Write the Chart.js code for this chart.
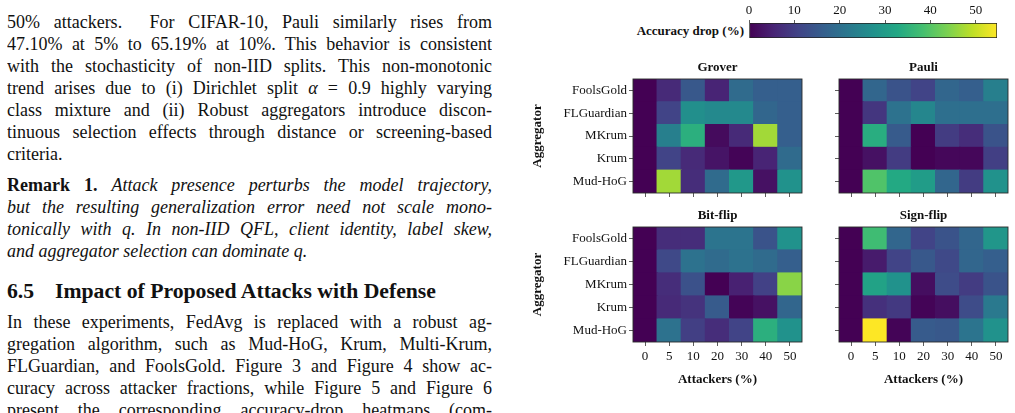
<!DOCTYPE html>
<html>
<head>
<meta charset="utf-8">
<script src="https://cdn.jsdelivr.net/npm/chart.js@4.4.1/dist/chart.umd.min.js"></script>
<style>
  html, body { margin: 0; padding: 0; background: #fff; }
  body { width: 1015px; height: 413px; overflow: hidden; position: relative;
         font-family: "Liberation Serif", "DejaVu Serif", serif; color: #111; }
  .ln { position: absolute; left: 7px; width: 485px; height: 22px; line-height: 22px;
        font-size: 18px; text-align: justify; text-align-last: justify; word-spacing: -1px; overflow: hidden; }
  .ln.end { text-align-last: left; word-spacing: 0; }
  .hd { position: absolute; left: 7px; top: 278px; font-size: 21.7px; font-weight: bold; line-height: 26px; white-space: nowrap; }
  .cblabel { position: absolute; right: 271px; top: 23px; font-size: 13px; font-weight: bold; line-height: 16px; white-space: nowrap; }
  canvas { position: absolute; }
</style>
</head>
<body>

<div class="ln" style="top:11px">50% attackers.&nbsp; For CIFAR-10, Pauli similarly rises from</div>
<div class="ln" style="top:33px">47.10% at 5% to 65.19% at 10%. This behavior is consistent</div>
<div class="ln" style="top:55px">with the stochasticity of non-IID splits. This non-monotonic</div>
<div class="ln" style="top:77px">trend arises due to (i) Dirichlet split <i>α</i> = 0.9 highly varying</div>
<div class="ln" style="top:99px">class mixture and (ii) Robust aggregators introduce discon-</div>
<div class="ln" style="top:121px">tinuous selection effects through distance or screening-based</div>
<div class="ln end" style="top:143px">criteria.</div>

<div class="ln" style="top:174px"><b>Remark 1.</b> <i>Attack presence perturbs the model trajectory,</i></div>
<div class="ln" style="top:196px"><i>but the resulting generalization error need not scale mono-</i></div>
<div class="ln" style="top:218px"><i>tonically with q. In non-IID QFL, client identity, label skew,</i></div>
<div class="ln end" style="top:240px"><i>and aggregator selection can dominate q.</i></div>

<div class="hd"><span style="display:inline-block;width:48px">6.5</span>Impact of Proposed Attacks with Defense</div>

<div class="ln" style="top:311px">In these experiments, FedAvg is replaced with a robust ag-</div>
<div class="ln" style="top:333px">gregation algorithm, such as Mud-HoG, Krum, Multi-Krum,</div>
<div class="ln" style="top:355px">FLGuardian, and FoolsGold. Figure 3 and Figure 4 show ac-</div>
<div class="ln" style="top:377px">curacy across attacker fractions, while Figure 5 and Figure 6</div>
<div class="ln" style="top:399px">present the corresponding accuracy-drop heatmaps (com-</div>

<div class="cblabel">Accuracy drop (%)</div>
<canvas id="cbar" width="275" height="45" style="left:740px;top:0px"></canvas>
<canvas id="grover" width="285" height="140" style="left:525px;top:61px"></canvas>
<canvas id="pauli" width="195" height="140" style="left:820px;top:61px"></canvas>
<canvas id="bitflip" width="285" height="182" style="left:525px;top:209px"></canvas>
<canvas id="signflip" width="195" height="182" style="left:820px;top:209px"></canvas>

<script>
// Heatmap data: accuracy drop (%) per aggregator (rows, top to bottom) and attacker share (columns)
var attackers = ['0', '5', '10', '20', '30', '40', '50'];
var aggregators = ['FoolsGold', 'FLGuardian', 'MKrum', 'Krum', 'Mud-HoG'];

var groverDrop = [
    [0, 6.5, 15, 5.5, 19, 16.5, 16.5],
    [0, 11, 27, 25.5, 25.5, 18, 16.5],
    [0, 23.5, 34.5, 1.5, 6.5, 47, 16.5],
    [0, 11, 6.5, 3, 0.5, 5.5, 19],
    [0, 47, 7, 19, 29, 2.5, 27.5]
];
var pauliDrop = [
    [0, 18, 14, 11, 18, 16.5, 23.5],
    [0, 8.5, 20.5, 25, 20, 20, 20],
    [0, 34, 15.5, 0, 9.5, 7, 14],
    [0, 2.5, 9.5, 0, 1, 1, 10],
    [0, 39.5, 33, 30, 18, 9.5, 27.5]
];
var bitflipDrop = [
    [0, 7, 7, 21, 21, 14, 27.5],
    [0, 12, 20.5, 19, 20.5, 19, 16.5],
    [0, 7, 13.5, 0, 5, 10.5, 45],
    [0, 6.5, 8, 15.5, 0.5, 2.5, 18],
    [0, 20.5, 10, 7, 11, 34.5, 27.5]
];
var signflipDrop = [
    [0, 37.5, 18, 11, 14, 18, 28.5],
    [0, 4, 11, 15, 12, 18, 16.5],
    [0, 31.5, 27.5, 2, 12.5, 9.5, 14],
    [0, 7.5, 9, 0.5, 2, 12.5, 22],
    [0, 54.7, 0.5, 15.5, 15, 21, 27.5]
];

var dropTicks = [0, 10, 20, 30, 40, 50];
var dropMax = 54.7;

var serif = '"Liberation Serif", "DejaVu Serif", serif';
Chart.defaults.font.family = serif;
Chart.defaults.color = '#111';

// viridis colour map
var viridisStops = ['#440154', '#482475', '#414487', '#355f8d', '#2a788e', '#21918c',
                    '#22a884', '#44bf70', '#7ad151', '#bddf26', '#fde725'];

function hexRgb(h) {
    return [parseInt(h.substr(1, 2), 16), parseInt(h.substr(3, 2), 16), parseInt(h.substr(5, 2), 16)];
}

function viridis(t) {
    t = Math.max(0, Math.min(1, t));
    var p = t * 10, i = Math.min(9, Math.floor(p)), f = p - i;
    var a = hexRgb(viridisStops[i]), b = hexRgb(viridisStops[i + 1]);
    return 'rgb(' + [0, 1, 2].map(function (k) { return Math.round(a[k] + (b[k] - a[k]) * f); }).join(',') + ')';
}

// thin frame round the plot area
var framePlugin = {
    id: 'frame',
    afterDatasetsDraw: function (chart) {
        var a = chart.chartArea, ctx = chart.ctx;
        ctx.save();
        ctx.strokeStyle = '#2a2a2a';
        ctx.lineWidth = 0.9;
        ctx.strokeRect(a.left, a.top, a.right - a.left, a.bottom - a.top);
        ctx.restore();
    }
};

// Heatmap drawn as stacked bars, one dataset per aggregator row
function heatmap(id, title, values, o) {
    var n = aggregators.length;
    var datasets = [];
    for (var k = 0; k < n; k++) {
        var row = values[n - 1 - k];
        datasets.push({
            label: aggregators[n - 1 - k],
            data: attackers.map(function () { return 1; }),
            backgroundColor: row.map(function (v) { return viridis(v / dropMax); }),
            borderWidth: 0,
            inflateAmount: 0.6,
            barPercentage: 1,
            categoryPercentage: 1
        });
    }

    new Chart(document.getElementById(id), {
        type: 'bar',
        data: { labels: attackers, datasets: datasets },
        plugins: [framePlugin],
        options: {
            responsive: false,
            animation: false,
            layout: { padding: { left: 0, right: o.padRight, top: 0, bottom: 0 } },
            plugins: {
                legend: { display: false },
                tooltip: { enabled: false },
                title: {
                    display: true, text: title, fullSize: false, color: '#111',
                    font: { family: serif, size: 13, weight: 'bold', lineHeight: 1 },
                    padding: { top: 0, bottom: 5 }
                }
            },
            scales: {
                x: {
                    stacked: true,
                    offset: true,
                    grid: { offset: false, drawOnChartArea: false, drawTicks: true, tickLength: 4, tickColor: '#333', tickWidth: 0.8 },
                    border: { display: false },
                    ticks: { display: o.xLabels, color: '#111', font: { size: 13 }, padding: 3, maxRotation: 0, autoSkip: false },
                    title: {
                        display: o.xLabels, text: 'Attackers (%)', color: '#111',
                        font: { size: 13, weight: 'bold', lineHeight: 1 }, padding: { top: 0, bottom: 4.5 }
                    },
                    afterFit: function (scale) {
                        scale.height = o.xHeight;
                        scale.paddingLeft = 0;
                        scale.paddingRight = 0;
                    }
                },
                y: {
                    type: 'linear',
                    stacked: true,
                    min: 0,
                    max: n,
                    afterBuildTicks: function (scale) {
                        scale.ticks = aggregators.map(function (_, i) { return { value: i + 0.5 }; });
                    },
                    grid: { drawOnChartArea: false, drawTicks: true, tickLength: 4, tickColor: '#333', tickWidth: 0.8 },
                    border: { display: false },
                    ticks: {
                        display: o.yLabels, color: '#111', font: { size: 13 }, padding: 2,
                        callback: function (v) { return aggregators[n - 1 - Math.floor(v)]; }
                    },
                    title: {
                        display: o.yLabels, text: 'Aggregator', color: '#111',
                        font: { size: 13, weight: 'bold', lineHeight: 1 }, padding: { top: 6.5, bottom: 0 }
                    },
                    afterFit: function (scale) {
                        scale.width = o.yWidth;
                        scale.paddingTop = 0;
                        scale.paddingBottom = 0;
                    }
                }
            }
        }
    });
}

heatmap('grover', 'Grover', groverDrop, { padRight: 8, yWidth: 108, xHeight: 8, xLabels: false, yLabels: true });
heatmap('pauli', 'Pauli', pauliDrop, { padRight: 7, yWidth: 19, xHeight: 8, xLabels: false, yLabels: false });
heatmap('bitflip', 'Bit-flip', bitflipDrop, { padRight: 8, yWidth: 108, xHeight: 49, xLabels: true, yLabels: true });
heatmap('signflip', 'Sign-flip', signflipDrop, { padRight: 7, yWidth: 19, xHeight: 49, xLabels: true, yLabels: false });

// Colour bar: one floating bar over the full range, filled with the map
new Chart(document.getElementById('cbar'), {
    type: 'bar',
    data: {
        labels: [''],
        datasets: [{
            data: [[0, dropMax]],
            backgroundColor: function (c) {
                var a = c.chart.chartArea;
                if (!a) return viridisStops[0];
                var g = c.chart.ctx.createLinearGradient(a.left, 0, a.right, 0);
                viridisStops.forEach(function (s, i) { g.addColorStop(i / 10, s); });
                return g;
            },
            borderColor: '#222',
            borderWidth: 1,
            borderSkipped: false,
            barPercentage: 1,
            categoryPercentage: 1
        }]
    },
    options: {
        indexAxis: 'y',
        responsive: false,
        animation: false,
        layout: { padding: { left: 9, right: 18, top: 0, bottom: 7 } },
        plugins: { legend: { display: false }, tooltip: { enabled: false } },
        scales: {
            x: {
                type: 'linear',
                position: 'top',
                min: 0,
                max: dropMax,
                afterBuildTicks: function (scale) {
                    scale.ticks = dropTicks.map(function (v) { return { value: v }; });
                },
                grid: { drawOnChartArea: false, drawTicks: true, tickLength: 3, tickColor: '#333', tickWidth: 0.8 },
                border: { display: false },
                ticks: { color: '#111', font: { size: 13 }, padding: 2, maxRotation: 0 },
                afterFit: function (scale) {
                    scale.height = 23;
                    scale.paddingLeft = 0;
                    scale.paddingRight = 0;
                }
            },
            y: { display: false }
        }
    }
});
</script>
</body>
</html>
